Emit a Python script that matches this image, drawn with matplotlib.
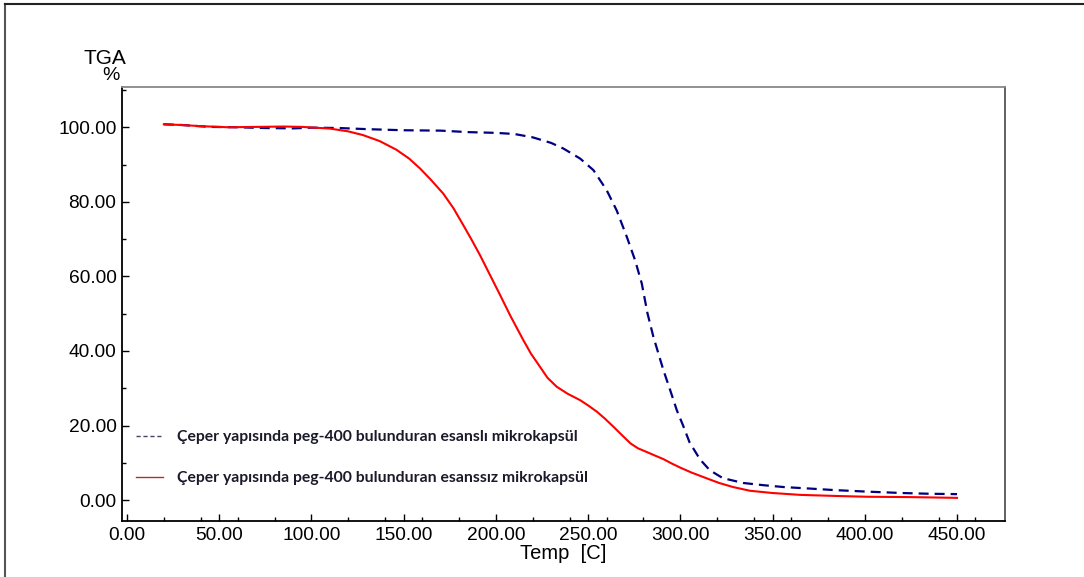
import matplotlib
matplotlib.use("Agg")
import matplotlib.pyplot as plt
from matplotlib.lines import Line2D
from matplotlib.ticker import MultipleLocator, FormatStrFormatter

# TGA data (temperature in C, mass %)
temp_esansli = [20, 30, 45, 60, 75, 90, 100, 115, 130, 150, 170, 185, 200, 210,
                220, 230, 236.6, 245.7, 252.9, 260.1, 265.5, 271, 275.5, 279.1,
                282.2, 285.4, 290.8, 294.5, 298.1, 301.5, 305, 310.7, 316, 323,
                334, 345, 356, 370, 383, 400, 420, 435, 450]
tga_esansli = [100.8, 100.6, 100.1, 100.0, 99.8, 99.7, 99.9, 99.8, 99.5, 99.2,
               99.1, 98.7, 98.5, 98.2, 97.3, 95.8, 94.3, 91.6, 88.5, 83.1, 77.7,
               70.6, 64.3, 58.1, 50.1, 43.8, 34.9, 29.5, 24.1, 20.0, 15.5, 10.9,
               8.0, 5.9, 4.6, 4.0, 3.5, 3.1, 2.7, 2.3, 1.9, 1.7, 1.6]

temp_esanssiz = [20, 30, 40, 55, 70, 85, 95, 110, 120, 128, 137, 146, 153, 159,
                 165, 171.5, 177, 182.4, 187, 191.4, 197, 202.3, 208, 214.9, 219,
                 224, 228, 233, 239, 245.7, 250, 254.8, 259, 263.7, 268, 273, 277,
                 281.8, 286, 290.8, 295, 300, 306, 314.5, 321, 328.6, 337.8, 350,
                 365, 385, 401, 425, 450]
tga_esanssiz = [100.8, 100.6, 100.3, 100.0, 100.1, 100.2, 100.1, 99.65, 98.9,
                97.9, 96.3, 94.0, 91.6, 88.9, 85.8, 82.2, 78.3, 73.7, 69.7, 65.7,
                60.2, 55.0, 49.3, 42.9, 39.3, 35.7, 32.8, 30.4, 28.5, 26.8, 25.4,
                23.7, 21.9, 19.7, 17.6, 15.2, 13.9, 12.9, 12.0, 11.0, 9.9, 8.7,
                7.4, 5.8, 4.6, 3.5, 2.5, 1.9, 1.4, 1.1, 0.9, 0.8, 0.6]

label_esansli = "Çeper yapısında peg-400 bulunduran esanslı mikrokapsül"
label_esanssiz = "Çeper yapısında peg-400 bulunduran esanssız mikrokapsül"

blue = "#000080"
red = "#ff0000"
tick_font = "Liberation Sans"

fig = plt.figure(figsize=(10.84, 5.77), dpi=100)
ax = fig.add_axes([0.1125, 0.0971, 0.8146, 0.7521])

ax.plot(temp_esansli, tga_esansli, color=blue, linewidth=1.6, dashes=[4.5, 2.7])
ax.plot(temp_esanssiz, tga_esanssiz, color=red, linewidth=1.5)

ax.set_xlim(-2.7, 476)
ax.set_ylim(-5.6, 110.8)

# ticks
ax.xaxis.set_major_locator(MultipleLocator(50))
ax.xaxis.set_minor_locator(MultipleLocator(20))
ax.yaxis.set_major_locator(MultipleLocator(20))
ax.yaxis.set_minor_locator(MultipleLocator(10))
ax.xaxis.set_major_formatter(FormatStrFormatter("%.2f"))
ax.yaxis.set_major_formatter(FormatStrFormatter("%.2f"))
ax.tick_params(which="major", direction="in", length=5, width=1, pad=4,
               labelsize=13.8, top=False, right=False)
ax.tick_params(which="minor", direction="in", length=3, width=1,
               top=False, right=False)
for tl in ax.get_xticklabels() + ax.get_yticklabels():
    tl.set_fontfamily(tick_font)

# spines
ax.spines["left"].set_color("black")
ax.spines["bottom"].set_color("black")
ax.spines["top"].set_color("#888888")
ax.spines["right"].set_color("#555555")
for s in ax.spines.values():
    s.set_linewidth(1.3)

ax.set_xlabel("Temp  [C]", fontsize=14.5, family=tick_font, labelpad=0)
fig.text(0.097, 0.898, "TGA", fontsize=15, family=tick_font, ha="center", va="center")
fig.text(0.102, 0.869, "%", fontsize=14, family=tick_font, ha="center", va="center")

# legend
handles = [Line2D([], [], color="#444466", linewidth=1, dashes=[3, 2]),
           Line2D([], [], color="#aa3333", linewidth=1)]
leg = ax.legend(handles, [label_esansli, label_esanssiz], loc="lower left",
                bbox_to_anchor=(0.0, 0.05), frameon=False, handlelength=1.7,
                handletextpad=0.9, labelspacing=1.7,
                prop={"family": "Lato", "weight": "bold", "size": 11.3})
for t in leg.get_texts():
    t.set_color("#1a1a2a")

# outer frame of the original screenshot
fig.add_artist(Line2D([0.005, 0.005], [0.0, 0.993], transform=fig.transFigure,
                      color="#555555", linewidth=1.5))
fig.add_artist(Line2D([0.005, 1.0], [0.993, 0.993], transform=fig.transFigure,
                      color="#222222", linewidth=1.5))

fig.savefig("out.png", dpi=100)
